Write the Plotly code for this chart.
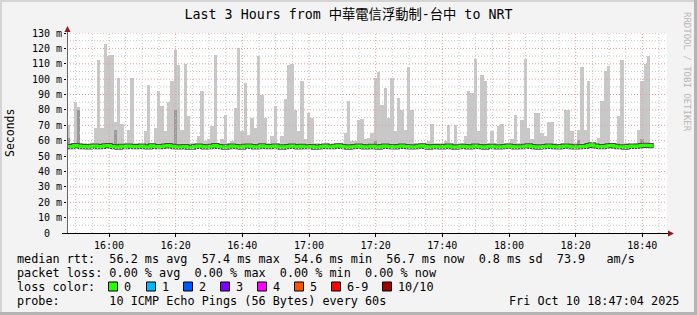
import datetime as dt
import plotly.graph_objects as go

# ---------------- data ----------------
title_text = "Last 3 Hours from 中華電信浮動制-台中 to NRT"
start_time = dt.datetime(2025, 10, 10, 15, 47, 24)
window_minutes = 180
step_seconds = 60

# highest of the 10 pings per minute (ms)
max_ms = [
    70, 58.4, 85, 82, 58.2, 58.6, 58.1, 58.5, 68, 112.6,
    68, 123, 115, 116, 72, 101, 71, 58.3, 67, 101,
    58.2, 58.7, 58.1, 66, 96, 58.4, 68, 92, 82.6, 66,
    85, 99, 119, 109, 67, 110, 76, 58.3, 58.5, 63,
    92, 60, 61, 69.5, 115.6, 58.2, 61, 77, 58.4, 60,
    81, 120, 66, 97.6, 64, 75, 68, 115, 90, 75,
    58.3, 63, 82.6, 58.2, 63, 87, 109, 110, 80, 66,
    99, 61, 78, 75, 58.2, 58.5, 58.1, 58.6, 58.3, 58.0,
    58.4, 58.7, 58.2, 65, 86, 60, 60, 73.5, 74, 61,
    62, 65, 101, 104.8, 83, 94.5, 75, 100.6, 66, 88,
    80, 67, 108, 80, 58.3, 58.1, 58.5, 58.2, 60, 71,
    58.4, 58.2, 58.6, 60, 70, 58.3, 70, 58.1, 58.5, 63,
    92, 91, 113, 66, 103, 99, 58.4, 66, 58.2, 69.5,
    71, 58.3, 58.6, 61, 77, 58.2, 73.5, 113, 68, 61,
    78, 78, 65, 63, 72, 72, 58.4, 58.1, 58.5, 80,
    80, 66, 58.3, 67, 108, 67, 99, 58.2, 58.6, 62,
    86, 105, 108.7, 58.4, 58.3, 76, 112.6, 58.2, 58.5, 58.1,
    58.4, 67, 99, 110, 115, 58.6,
]

# second highest ping (ms)
p9_ms = [
    62.0, 57.6, 57.9, 80.0, 57.5, 57.8, 57.4, 57.9, 57.7, 57.6,
    57.8, 58.0, 57.9, 57.6, 67.0, 57.7, 57.5, 57.8, 57.6, 57.9,
    57.4, 57.7, 57.8, 57.5, 57.9, 57.6, 57.7, 57.8, 57.6, 57.5,
    57.9, 57.8, 80.0, 57.7, 57.6, 57.8, 57.4, 57.5, 57.7, 57.9,
    57.6, 57.5, 57.7, 57.8, 57.9, 57.6, 57.5, 57.4, 57.7, 57.8,
    57.6, 57.5, 57.4, 57.8, 57.9, 57.7, 57.5, 57.6, 57.9, 57.7,
    57.5, 57.7, 57.8, 57.6, 57.4, 57.6, 57.8, 57.9, 57.7, 57.5,
    57.8, 57.6, 57.5, 57.7, 57.4, 57.5, 57.6, 57.8, 57.7, 57.5,
    57.8, 57.9, 57.7, 57.5, 57.4, 57.6, 57.8, 57.9, 57.7, 57.5,
    57.6, 57.8, 60.0, 57.4, 57.7, 57.9, 57.8, 57.6, 57.5, 57.7,
    57.9, 57.8, 57.6, 57.5, 57.6, 57.8, 57.9, 57.7, 57.4, 57.6,
    57.8, 57.5, 57.4, 57.7, 57.9, 57.6, 57.4, 57.5, 57.8, 57.7,
    57.5, 57.6, 57.9, 57.8, 57.6, 57.4, 57.7, 57.8, 57.6, 57.5,
    57.6, 57.8, 57.9, 57.7, 57.5, 57.6, 57.5, 57.8, 58.0, 57.8,
    57.6, 57.4, 57.5, 57.7, 57.9, 57.8, 57.6, 57.5, 57.7, 57.9,
    57.8, 57.6, 57.5, 60.5, 57.8, 57.7, 58.2, 58.6, 57.9, 57.7,
    57.6, 57.8, 58.1, 58.3, 57.9, 57.6, 57.5, 57.4, 57.7, 57.9,
    57.8, 58.0, 61.0, 58.4, 58.2, 58.1,
]

# median rtt (ms)
median_ms = [
    56.3, 56.1, 56.8, 56.5, 56.0, 56.2, 55.9, 56.4, 56.6, 56.1,
    56.3, 56.7, 56.9, 56.2, 56.0, 55.8, 56.4, 56.1, 56.5, 56.3,
    56.0, 56.2, 56.6, 56.1, 55.9, 56.7, 56.3, 56.0, 56.2, 56.5,
    56.8, 56.4, 56.1, 55.9, 56.0, 56.3, 55.7, 55.8, 56.2, 56.6,
    56.3, 55.9, 56.1, 56.4, 56.8, 56.2, 56.0, 55.7, 56.1, 56.5,
    56.3, 56.0, 55.8, 56.4, 56.6, 56.2, 55.9, 56.1, 56.7, 56.3,
    56.0, 56.2, 56.5, 56.1, 55.8, 56.0, 56.3, 56.6, 56.2, 55.9,
    56.4, 56.1, 56.0, 56.3, 55.8, 55.9, 56.2, 56.5, 56.1, 56.0,
    56.4, 56.7, 56.2, 56.0, 55.8, 56.1, 56.3, 56.6, 56.2, 55.9,
    56.0, 56.4, 56.1, 55.8, 56.2, 56.5, 56.3, 56.0, 55.9, 56.2,
    56.6, 56.3, 56.1, 55.9, 56.0, 56.4, 56.7, 56.2, 55.8, 56.1,
    56.3, 56.0, 55.9, 56.2, 56.5, 56.1, 55.8, 56.0, 56.4, 56.2,
    55.9, 56.1, 56.6, 56.3, 56.0, 55.8, 56.2, 56.4, 56.1, 55.9,
    56.0, 56.3, 56.5, 56.2, 55.9, 56.1, 56.0, 56.4, 56.7, 56.3,
    56.1, 55.8, 56.0, 56.2, 56.5, 56.3, 56.0, 55.9, 56.2, 56.6,
    56.4, 56.1, 55.9, 56.0, 56.3, 56.2, 56.8, 57.4, 56.5, 56.2,
    56.0, 56.3, 56.7, 56.9, 56.4, 56.1, 56.0, 55.8, 56.2, 56.5,
    56.3, 56.6, 56.9, 57.1, 56.8, 56.7,
]

# lowest ping (ms)
min_ms = [
    55.0, 54.9, 55.1, 55.2, 54.8, 55.0, 54.9, 55.1, 55.3, 54.9,
    55.0, 55.2, 55.1, 54.9, 54.8, 54.7, 55.0, 54.9, 55.2, 55.0,
    54.8, 55.0, 55.1, 54.9, 54.7, 55.2, 55.0, 54.8, 54.9, 55.1,
    55.3, 55.0, 54.9, 54.7, 54.8, 55.0, 54.6, 54.7, 54.9, 55.2,
    55.0, 54.8, 54.9, 55.1, 55.3, 54.9, 54.8, 54.6, 54.9, 55.1,
    55.0, 54.8, 54.7, 55.1, 55.2, 54.9, 54.7, 54.9, 55.3, 55.0,
    54.8, 54.9, 55.2, 54.9, 54.7, 54.8, 55.0, 55.2, 54.9, 54.7,
    55.1, 54.9, 54.8, 55.0, 54.7, 54.7, 54.9, 55.1, 54.9, 54.8,
    55.1, 55.3, 54.9, 54.8, 54.6, 54.9, 55.0, 55.2, 54.9, 54.7,
    54.8, 55.1, 54.9, 54.7, 54.9, 55.2, 55.0, 54.8, 54.7, 54.9,
    55.2, 55.0, 54.9, 54.7, 54.8, 55.1, 55.3, 54.9, 54.6, 54.9,
    55.0, 54.8, 54.7, 54.9, 55.2, 54.9, 54.6, 54.8, 55.1, 54.9,
    54.7, 54.9, 55.2, 55.0, 54.8, 54.6, 54.9, 55.1, 54.9, 54.7,
    54.8, 55.0, 55.2, 54.9, 54.7, 54.9, 54.8, 55.1, 55.3, 55.0,
    54.9, 54.6, 54.8, 54.9, 55.2, 55.0, 54.8, 54.7, 54.9, 55.2,
    55.1, 54.9, 54.7, 54.8, 55.0, 54.9, 55.4, 55.8, 55.2, 54.9,
    54.8, 55.0, 55.3, 55.5, 55.1, 54.9, 54.8, 54.6, 54.9, 55.2,
    55.0, 55.2, 55.5, 55.7, 55.4, 55.3,
]

time_tick_labels = ["16:00", "16:20", "16:40", "17:00", "17:20", "17:40", "18:00", "18:20", "18:40"]
y_tick_values = [0, 10, 20, 30, 40, 50, 60, 70, 80, 90, 100, 110, 120, 130]

stats_line = "median rtt:  56.2 ms avg  57.4 ms max  54.6 ms min  56.7 ms now  0.8 ms sd  73.9   am/s"
loss_line = "packet loss: 0.00 % avg  0.00 % max  0.00 % min  0.00 % now"
probe_line = "probe:       10 ICMP Echo Pings (56 Bytes) every 60s"
date_text = "Fri Oct 10 18:47:04 2025"
loss_labels = ["0", "1", "2", "3", "4", "5", "6-9", "10/10"]
loss_colors = ["#26ff00", "#00b8ff", "#0059ff", "#7e00ff", "#ff00ff", "#ff5500", "#ff0000", "#a10000"]

n = len(max_ms)
assert len(p9_ms) == n and len(median_ms) == n and len(min_ms) == n

# ---------------- geometry helpers ----------------
W, H = 697, 315
L, R, T, B = 67, 667, 33, 233


def PX(px):
    return (px - L) / (R - L)


def PY(py):
    return (B - py) / (B - T)


MONO = "DejaVu Sans Mono, Noto Sans CJK TC, monospace"
NB = "\u00a0"

t_end = start_time + dt.timedelta(minutes=window_minutes)
centers = [start_time + dt.timedelta(seconds=step_seconds * i + step_seconds / 2) for i in range(n)]
starts = [start_time + dt.timedelta(seconds=step_seconds * i) for i in range(n + 1)]
med_line = median_ms + [median_ms[-1]]

fig = go.Figure()
fig.add_trace(go.Bar(x=centers, y=[a - b for a, b in zip(max_ms, min_ms)], base=min_ms,
                     width=step_seconds * 1000, marker=dict(color="#c8c8c8", line=dict(width=0)),
                     hoverinfo="skip", showlegend=False))
fig.add_trace(go.Bar(x=centers, y=[a - b for a, b in zip(p9_ms, min_ms)], base=min_ms,
                     width=step_seconds * 1000, marker=dict(color="#9a9a9a", line=dict(width=0)),
                     hoverinfo="skip", showlegend=False))
fig.add_trace(go.Scatter(x=starts, y=med_line, mode="lines", line=dict(color="#4a4a4a", width=5, shape="hv"),
                         hoverinfo="skip", showlegend=False))
fig.add_trace(go.Scatter(x=starts, y=med_line, mode="lines", line=dict(color="#26ff00", width=3, shape="hv"),
                         hoverinfo="skip", showlegend=False))

shapes = []
# grid (drawn on top like rrdtool)
for v in range(5, 131, 5):
    shapes.append(dict(type="line", xref="paper", yref="y", x0=0, x1=1, y0=v, y1=v, layer="above",
                       line=dict(color="#e6a0a0" if v % 10 == 0 else "#c8c8c8", width=1, dash="1px,2px")))
gt = dt.datetime(2025, 10, 10, 15, 50)
while gt < t_end:
    major = gt.minute % 20 == 0
    shapes.append(dict(type="line", xref="x", yref="paper", x0=gt, x1=gt, y0=0, y1=1, layer="above",
                       line=dict(color="#e6a0a0" if major else "#c8c8c8", width=1, dash="1px,2px")))
    gt += dt.timedelta(minutes=5)

# axes lines & arrows
shapes.append(dict(type="line", xref="paper", yref="paper", x0=PX(67.5), x1=PX(67.5), y0=PY(233), y1=PY(31),
                   layer="above", line=dict(color="#666666", width=1)))
shapes.append(dict(type="line", xref="paper", yref="paper", x0=PX(62), x1=PX(669), y0=PY(233.5), y1=PY(233.5),
                   layer="above", line=dict(color="#000000", width=1)))
shapes.append(dict(type="path", xref="paper", yref="paper", layer="above",
                   path=f"M {PX(64.5)} {PY(32)} L {PX(70.5)} {PY(32)} L {PX(67.5)} {PY(26)} Z",
                   fillcolor="#8b1a1a", line=dict(width=0)))
shapes.append(dict(type="path", xref="paper", yref="paper", layer="above",
                   path=f"M {PX(668)} {PY(230.5)} L {PX(668)} {PY(236.5)} L {PX(674)} {PY(233.5)} Z",
                   fillcolor="#8b1a1a", line=dict(width=0)))

# frame
shapes.append(dict(type="rect", xref="paper", yref="paper", x0=PX(0), x1=PX(W), y0=PY(0), y1=PY(2),
                   fillcolor="#d4d4d4", line=dict(width=0), layer="below"))
shapes.append(dict(type="rect", xref="paper", yref="paper", x0=PX(0), x1=PX(2), y0=PY(0), y1=PY(H),
                   fillcolor="#d4d4d4", line=dict(width=0), layer="below"))
shapes.append(dict(type="rect", xref="paper", yref="paper", x0=PX(W - 3), x1=PX(W), y0=PY(0), y1=PY(H),
                   fillcolor="#b4b4b4", line=dict(width=0), layer="below"))
shapes.append(dict(type="rect", xref="paper", yref="paper", x0=PX(0), x1=PX(W), y0=PY(H - 3), y1=PY(H),
                   fillcolor="#b4b4b4", line=dict(width=0), layer="below"))

# loss colour squares
sq_left = [108, 146, 183, 220, 257, 294, 331, 382]
annotations = []
for xl, col, lab in zip(sq_left, loss_colors, loss_labels):
    shapes.append(dict(type="rect", xref="paper", yref="paper", x0=PX(xl + 0.5), x1=PX(xl + 9.5),
                       y0=PY(282), y1=PY(291), fillcolor=col, line=dict(color="#000000", width=1)))
    annotations.append(dict(xref="paper", yref="paper", x=PX(xl + 14), y=PY(286.5), text=lab,
                            showarrow=False, xanchor="left", yanchor="middle",
                            font=dict(family=MONO, size=11.8, color="#000000")))


def txt(s):
    return s.replace(" ", NB)


for s, py in [(stats_line, 258.5), (loss_line, 272.5), ("loss color:", 286.5), (probe_line, 300.5)]:
    annotations.append(dict(xref="paper", yref="paper", x=PX(15), y=PY(py), text=txt(s), showarrow=False,
                            xanchor="left", yanchor="middle",
                            font=dict(family=MONO, size=11.8, color="#000000")))
annotations.append(dict(xref="paper", yref="paper", x=PX(681), y=PY(300.5), text=txt(date_text), showarrow=False,
                        xanchor="right", yanchor="middle", font=dict(family=MONO, size=11.8, color="#000000")))
annotations.append(dict(xref="paper", yref="paper", x=PX(10), y=PY(133), text="Seconds", showarrow=False,
                        textangle=-90, xanchor="center", yanchor="middle",
                        font=dict(family=MONO, size=11.5, color="#000000")))
annotations.append(dict(xref="paper", yref="paper", x=PX(687), y=PY(72), text=txt("RRDTOOL / TOBI OETIKER"),
                        showarrow=False, textangle=90, xanchor="center", yanchor="middle",
                        font=dict(family=MONO, size=9, color="#b8b8b8")))

tickvals_x = [dt.datetime(2025, 10, 10, int(s[:2]), int(s[3:])) for s in time_tick_labels]
y_tick_text = [(f"{v} m" if v else "0" + NB + NB) for v in y_tick_values]

fig.update_layout(
    width=W, height=H,
    margin=dict(l=L, r=W - R, t=T, b=H - B, pad=0),
    paper_bgcolor="#f3f3f3", plot_bgcolor="#ffffff",
    barmode="overlay", bargap=0,
    showlegend=False,
    title=dict(text=title_text, x=0.5, xref="container", xanchor="center", y=1 - 14 / H, yanchor="middle",
               font=dict(family=MONO, size=13.3, color="#000000")),
    xaxis=dict(type="date", range=[start_time, t_end], tickvals=tickvals_x, ticktext=time_tick_labels,
               showgrid=False, zeroline=False, showline=False, ticks="outside", ticklen=3, tickcolor="#000000",
               tickfont=dict(family=MONO, size=10, color="#000000"), fixedrange=True),
    yaxis=dict(range=[0, 130], tickvals=y_tick_values, ticktext=y_tick_text, showgrid=False, zeroline=False,
               showline=False, ticks="outside", ticklen=2, tickcolor="#000000",
               tickfont=dict(family=MONO, size=10, color="#000000"), fixedrange=True),
    shapes=shapes, annotations=annotations,
)

fig.write_html("out.html", config={"displayModeBar": False})
